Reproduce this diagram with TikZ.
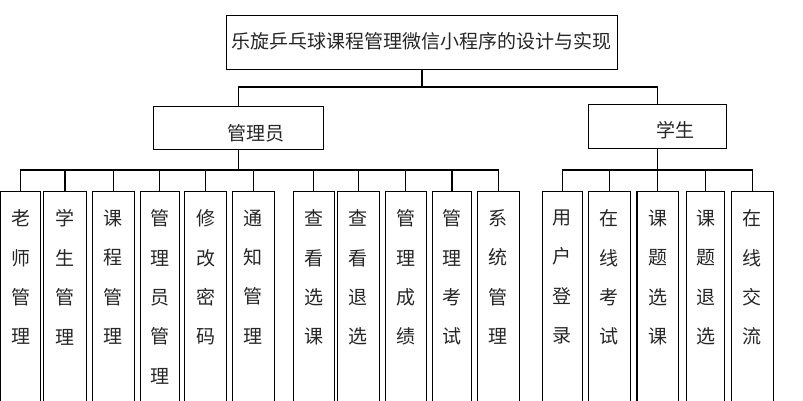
\documentclass[tikz,border=0pt]{standalone}
\usepackage{fontspec}
\setmainfont{Noto Sans CJK SC}
\begin{document}
\begin{tikzpicture}[x=1pt,y=-1pt,
  box/.style={draw=black,line width=1.3pt,rectangle,inner sep=0pt},
  leafbox/.style={box,anchor=north,minimum height=240pt},
  lbl/.style={inner sep=0pt,text=black!85,font=\fontsize{19}{19}\selectfont},
  leaftext/.style={inner sep=0pt,anchor=north,align=center,text=black!85,font=\fontsize{19}{39.4}\selectfont},
  wire/.style={draw=black,line width=1.3pt}]
\useasboundingbox (0,0) rectangle (803,400);
\clip (0,0) rectangle (803,400);
\node[box,minimum width=390.6pt,minimum height=54pt] (title) at (422,42.3) {};
\node[lbl] (titletext) at (421,41.7) {乐旋乒乓球课程管理微信小程序的设计与实现};
\node[box,minimum width=170pt,minimum height=42.6pt] (admin) at (238.3,128) {};
\node[lbl] (admintext) at (255.8,133.3) {管理员};
\node[box,minimum width=138pt,minimum height=44pt] (student) at (657.3,126.3) {};
\node[lbl] (studenttext) at (675.5,130) {学生};
\foreach \n/\c/\w/\t in {
  1/20.5/39.6/{老\\师\\管\\理},
  2/65/43.4/{学\\生\\管\\理},
  3/113.3/42/{课\\程\\管\\理},
  4/159.8/39/{管\\理\\员\\管\\理},
  5/205.5/42.4/{修\\改\\密\\码},
  6/253.3/42/{通\\知\\管\\理},
  7/313.8/41/{查\\看\\选\\课},
  8/358.3/42/{查\\看\\退\\选},
  9/405.8/41/{管\\理\\成\\绩},
  10/452/39.4/{管\\理\\考\\试},
  11/498.3/42/{系\\统\\管\\理},
  12/562.3/40/{用\\户\\登\\录},
  13/609.3/42/{在\\线\\考\\试},
  14/657.7/41.3/{课\\题\\选\\课},
  15/705.5/38.4/{课\\题\\退\\选},
  16/752.3/42/{在\\线\\交\\流}}{
  \node[leafbox,minimum width=\w pt] (l\n) at (\c,191) {};
  \node[leaftext] (t\n) at ([yshift=-18.5pt]l\n.north) {\t};
}
\coordinate (tb) at (422,87);
\coordinate (abus) at (238.3,170);
\coordinate (sbus) at (657.3,170);
\draw[wire] (title.south) -- (tb);
\draw[wire] (admin.north) |- (tb -| student.north) -- (student.north);
\draw[wire] (admin.south) -- (abus);
\draw[wire] (l1.north) |- (l11.north |- abus) -- (l11.north);
\foreach \n in {2,...,10}{\draw[wire] (l\n.north) -- (l\n.north |- abus);}
\draw[wire] (student.south) -- (sbus);
\draw[wire] (l12.north) |- (l16.north |- sbus) -- (l16.north);
\foreach \n in {13,14,15}{\draw[wire] (l\n.north) -- (l\n.north |- sbus);}
\end{tikzpicture}
\end{document}
